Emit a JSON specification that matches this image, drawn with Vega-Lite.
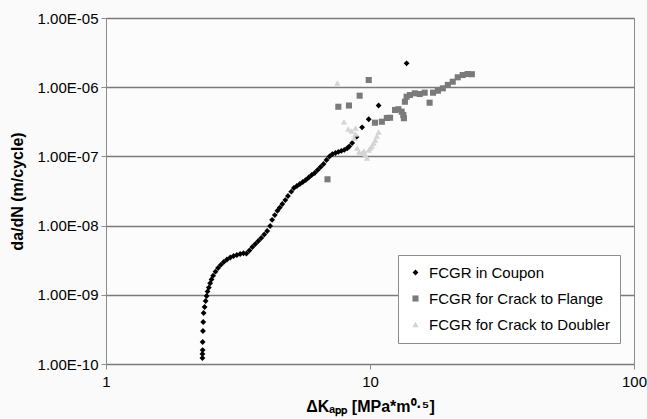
{
  "$schema": "https://vega.github.io/schema/vega-lite/v6.json",
  "autosize": {"type": "none"},
  "width": 528,
  "height": 346,
  "padding": {"left": 106, "top": 18, "right": 13, "bottom": 55},
  "background": "#fafafa",
  "config": {
    "font": "Liberation Sans",
    "view": {"stroke": "#8c8c8c", "strokeWidth": 1, "fill": "#fcfcfc"}
  },
  "data": {
    "values": [
      {"K": 2.319, "dadN": 1.22e-10, "s": "FCGR in Coupon"},
      {"K": 2.319, "dadN": 1.40e-10, "s": "FCGR in Coupon"},
      {"K": 2.323, "dadN": 1.59e-10, "s": "FCGR in Coupon"},
      {"K": 2.323, "dadN": 2.08e-10, "s": "FCGR in Coupon"},
      {"K": 2.329, "dadN": 3.00e-10, "s": "FCGR in Coupon"},
      {"K": 2.335, "dadN": 4.04e-10, "s": "FCGR in Coupon"},
      {"K": 2.343, "dadN": 5.46e-10, "s": "FCGR in Coupon"},
      {"K": 2.363, "dadN": 6.67e-10, "s": "FCGR in Coupon"},
      {"K": 2.384, "dadN": 8.13e-10, "s": "FCGR in Coupon"},
      {"K": 2.404, "dadN": 9.61e-10, "s": "FCGR in Coupon"},
      {"K": 2.425, "dadN": 1.12e-9, "s": "FCGR in Coupon"},
      {"K": 2.452, "dadN": 1.27e-9, "s": "FCGR in Coupon"},
      {"K": 2.480, "dadN": 1.47e-9, "s": "FCGR in Coupon"},
      {"K": 2.510, "dadN": 1.67e-9, "s": "FCGR in Coupon"},
      {"K": 2.545, "dadN": 1.89e-9, "s": "FCGR in Coupon"},
      {"K": 2.598, "dadN": 2.16e-9, "s": "FCGR in Coupon"},
      {"K": 2.657, "dadN": 2.44e-9, "s": "FCGR in Coupon"},
      {"K": 2.720, "dadN": 2.70e-9, "s": "FCGR in Coupon"},
      {"K": 2.791, "dadN": 2.98e-9, "s": "FCGR in Coupon"},
      {"K": 2.872, "dadN": 3.24e-9, "s": "FCGR in Coupon"},
      {"K": 2.957, "dadN": 3.46e-9, "s": "FCGR in Coupon"},
      {"K": 3.043, "dadN": 3.64e-9, "s": "FCGR in Coupon"},
      {"K": 3.131, "dadN": 3.76e-9, "s": "FCGR in Coupon"},
      {"K": 3.224, "dadN": 3.89e-9, "s": "FCGR in Coupon"},
      {"K": 3.317, "dadN": 3.98e-9, "s": "FCGR in Coupon"},
      {"K": 3.404, "dadN": 3.95e-9, "s": "FCGR in Coupon"},
      {"K": 3.493, "dadN": 4.37e-9, "s": "FCGR in Coupon"},
      {"K": 3.584, "dadN": 4.91e-9, "s": "FCGR in Coupon"},
      {"K": 3.679, "dadN": 5.42e-9, "s": "FCGR in Coupon"},
      {"K": 3.775, "dadN": 5.99e-9, "s": "FCGR in Coupon"},
      {"K": 3.873, "dadN": 6.62e-9, "s": "FCGR in Coupon"},
      {"K": 3.975, "dadN": 7.43e-9, "s": "FCGR in Coupon"},
      {"K": 4.079, "dadN": 8.36e-9, "s": "FCGR in Coupon"},
      {"K": 4.186, "dadN": 9.87e-9, "s": "FCGR in Coupon"},
      {"K": 4.258, "dadN": 1.21e-8, "s": "FCGR in Coupon"},
      {"K": 4.359, "dadN": 1.42e-8, "s": "FCGR in Coupon"},
      {"K": 4.459, "dadN": 1.64e-8, "s": "FCGR in Coupon"},
      {"K": 4.552, "dadN": 1.82e-8, "s": "FCGR in Coupon"},
      {"K": 4.655, "dadN": 2.05e-8, "s": "FCGR in Coupon"},
      {"K": 4.777, "dadN": 2.34e-8, "s": "FCGR in Coupon"},
      {"K": 4.889, "dadN": 2.68e-8, "s": "FCGR in Coupon"},
      {"K": 5.030, "dadN": 3.09e-8, "s": "FCGR in Coupon"},
      {"K": 5.149, "dadN": 3.49e-8, "s": "FCGR in Coupon"},
      {"K": 5.284, "dadN": 3.73e-8, "s": "FCGR in Coupon"},
      {"K": 5.422, "dadN": 3.99e-8, "s": "FCGR in Coupon"},
      {"K": 5.565, "dadN": 4.27e-8, "s": "FCGR in Coupon"},
      {"K": 5.710, "dadN": 4.56e-8, "s": "FCGR in Coupon"},
      {"K": 5.860, "dadN": 4.95e-8, "s": "FCGR in Coupon"},
      {"K": 6.013, "dadN": 5.38e-8, "s": "FCGR in Coupon"},
      {"K": 6.170, "dadN": 5.75e-8, "s": "FCGR in Coupon"},
      {"K": 6.332, "dadN": 6.36e-8, "s": "FCGR in Coupon"},
      {"K": 6.497, "dadN": 7.03e-8, "s": "FCGR in Coupon"},
      {"K": 6.668, "dadN": 7.76e-8, "s": "FCGR in Coupon"},
      {"K": 6.842, "dadN": 8.87e-8, "s": "FCGR in Coupon"},
      {"K": 7.021, "dadN": 9.97e-8, "s": "FCGR in Coupon"},
      {"K": 7.205, "dadN": 1.08e-7, "s": "FCGR in Coupon"},
      {"K": 7.394, "dadN": 1.12e-7, "s": "FCGR in Coupon"},
      {"K": 7.587, "dadN": 1.16e-7, "s": "FCGR in Coupon"},
      {"K": 7.786, "dadN": 1.20e-7, "s": "FCGR in Coupon"},
      {"K": 7.990, "dadN": 1.24e-7, "s": "FCGR in Coupon"},
      {"K": 8.199, "dadN": 1.31e-7, "s": "FCGR in Coupon"},
      {"K": 8.342, "dadN": 1.39e-7, "s": "FCGR in Coupon"},
      {"K": 8.561, "dadN": 1.56e-7, "s": "FCGR in Coupon"},
      {"K": 8.884, "dadN": 1.91e-7, "s": "FCGR in Coupon"},
      {"K": 9.333, "dadN": 2.63e-7, "s": "FCGR in Coupon"},
      {"K": 9.888, "dadN": 3.44e-7, "s": "FCGR in Coupon"},
      {"K": 10.78, "dadN": 5.44e-7, "s": "FCGR in Coupon"},
      {"K": 13.76, "dadN": 2.21e-6, "s": "FCGR in Coupon"},
      {"K": 6.902, "dadN": 4.67e-8, "s": "FCGR for Crack to Flange"},
      {"K": 7.587, "dadN": 5.22e-7, "s": "FCGR for Crack to Flange"},
      {"K": 8.322, "dadN": 5.44e-7, "s": "FCGR for Crack to Flange"},
      {"K": 9.135, "dadN": 7.54e-7, "s": "FCGR for Crack to Flange"},
      {"K": 9.888, "dadN": 1.27e-6, "s": "FCGR for Crack to Flange"},
      {"K": 10.44, "dadN": 3.07e-7, "s": "FCGR for Crack to Flange"},
      {"K": 11.09, "dadN": 3.17e-7, "s": "FCGR for Crack to Flange"},
      {"K": 11.58, "dadN": 3.59e-7, "s": "FCGR for Crack to Flange"},
      {"K": 11.91, "dadN": 3.62e-7, "s": "FCGR for Crack to Flange"},
      {"K": 12.44, "dadN": 4.69e-7, "s": "FCGR for Crack to Flange"},
      {"K": 12.81, "dadN": 4.80e-7, "s": "FCGR for Crack to Flange"},
      {"K": 13.18, "dadN": 4.43e-7, "s": "FCGR for Crack to Flange"},
      {"K": 13.37, "dadN": 3.97e-7, "s": "FCGR for Crack to Flange"},
      {"K": 13.44, "dadN": 3.56e-7, "s": "FCGR for Crack to Flange"},
      {"K": 13.56, "dadN": 6.17e-7, "s": "FCGR for Crack to Flange"},
      {"K": 13.76, "dadN": 7.29e-7, "s": "FCGR for Crack to Flange"},
      {"K": 14.16, "dadN": 7.71e-7, "s": "FCGR for Crack to Flange"},
      {"K": 14.78, "dadN": 8.16e-7, "s": "FCGR for Crack to Flange"},
      {"K": 15.43, "dadN": 7.97e-7, "s": "FCGR for Crack to Flange"},
      {"K": 16.11, "dadN": 8.33e-7, "s": "FCGR for Crack to Flange"},
      {"K": 16.82, "dadN": 5.97e-7, "s": "FCGR for Crack to Flange"},
      {"K": 17.33, "dadN": 8.33e-7, "s": "FCGR for Crack to Flange"},
      {"K": 18.08, "dadN": 8.90e-7, "s": "FCGR for Crack to Flange"},
      {"K": 18.88, "dadN": 9.64e-7, "s": "FCGR for Crack to Flange"},
      {"K": 19.71, "dadN": 1.08e-6, "s": "FCGR for Crack to Flange"},
      {"K": 20.58, "dadN": 1.20e-6, "s": "FCGR for Crack to Flange"},
      {"K": 21.49, "dadN": 1.39e-6, "s": "FCGR for Crack to Flange"},
      {"K": 22.43, "dadN": 1.50e-6, "s": "FCGR for Crack to Flange"},
      {"K": 23.43, "dadN": 1.55e-6, "s": "FCGR for Crack to Flange"},
      {"K": 24.31, "dadN": 1.54e-6, "s": "FCGR for Crack to Flange"},
      {"K": 7.522, "dadN": 1.15e-6, "s": "FCGR for Crack to Doubler"},
      {"K": 7.970, "dadN": 3.17e-7, "s": "FCGR for Crack to Doubler"},
      {"K": 8.272, "dadN": 2.49e-7, "s": "FCGR for Crack to Doubler"},
      {"K": 8.511, "dadN": 2.33e-7, "s": "FCGR for Crack to Doubler"},
      {"K": 8.809, "dadN": 2.57e-7, "s": "FCGR for Crack to Doubler"},
      {"K": 8.809, "dadN": 2.11e-7, "s": "FCGR for Crack to Doubler"},
      {"K": 8.711, "dadN": 1.85e-7, "s": "FCGR for Crack to Doubler"},
      {"K": 8.940, "dadN": 1.32e-7, "s": "FCGR for Crack to Doubler"},
      {"K": 9.095, "dadN": 1.16e-7, "s": "FCGR for Crack to Doubler"},
      {"K": 9.333, "dadN": 1.12e-7, "s": "FCGR for Crack to Doubler"},
      {"K": 9.496, "dadN": 1.20e-7, "s": "FCGR for Crack to Doubler"},
      {"K": 9.604, "dadN": 1.05e-7, "s": "FCGR for Crack to Doubler"},
      {"K": 9.745, "dadN": 9.48e-8, "s": "FCGR for Crack to Doubler"},
      {"K": 9.888, "dadN": 1.24e-7, "s": "FCGR for Crack to Doubler"},
      {"K": 10.03, "dadN": 1.32e-7, "s": "FCGR for Crack to Doubler"},
      {"K": 10.17, "dadN": 1.41e-7, "s": "FCGR for Crack to Doubler"},
      {"K": 10.32, "dadN": 1.56e-7, "s": "FCGR for Crack to Doubler"},
      {"K": 10.47, "dadN": 1.73e-7, "s": "FCGR for Crack to Doubler"},
      {"K": 10.62, "dadN": 1.97e-7, "s": "FCGR for Crack to Doubler"},
      {"K": 10.78, "dadN": 2.25e-7, "s": "FCGR for Crack to Doubler"}
    ]
  },
  "mark": {"type": "point", "filled": true, "opacity": 1},
  "encoding": {
    "x": {
      "field": "K", "type": "quantitative",
      "scale": {"type": "log", "domain": [1, 100], "nice": false},
      "axis": {
        "title": "ΔKₐₚₚ [MPa*m⁰·⁵]",
        "values": [1, 10, 100],
        "format": "d",
        "grid": false,
        "domain": false,
        "tickColor": "#8c8c8c",
        "tickSize": 5,
        "labelFontSize": 15,
        "labelColor": "#000",
        "labelPadding": 5,
        "labelFlush": false,
        "titleFontSize": 16,
        "titleFontWeight": "bold",
        "titleColor": "#000",
        "titlePadding": 9
      }
    },
    "y": {
      "field": "dadN", "type": "quantitative",
      "scale": {"type": "log", "domain": [1e-10, 1e-5], "nice": false},
      "axis": {
        "title": "da/dN (m/cycle)",
        "values": [1e-10, 1e-9, 1e-8, 1e-7, 1e-6, 1e-5],
        "labelExpr": "length(format(datum.value,'.2e'))==7 ? replace(upper(format(datum.value,'.2e')),'E-','E-0') : upper(format(datum.value,'.2e'))",
        "grid": true,
        "gridColor": "#7a7a7a",
        "gridWidth": 1.5,
        "domain": false,
        "tickColor": "#8c8c8c",
        "tickSize": 5,
        "labelFontSize": 15,
        "labelColor": "#000",
        "labelPadding": 3,
        "labelFlush": false,
        "titleFontSize": 16,
        "titleFontWeight": "bold",
        "titleColor": "#000",
        "titlePadding": 12
      }
    },
    "color": {
      "field": "s", "type": "nominal",
      "scale": {
        "domain": ["FCGR in Coupon", "FCGR for Crack to Flange", "FCGR for Crack to Doubler"],
        "range": ["#000000", "#7a7a7a", "#d4d4d4"]
      },
      "legend": {
        "title": null,
        "orient": "none",
        "legendX": 292,
        "legendY": 237,
        "fillColor": "#ffffff",
        "strokeColor": "#8c8c8c",
        "padding": 10,
        "rowPadding": 10,
        "labelFontSize": 15,
        "labelLimit": 400,
        "labelColor": "#000",
        "labelOffset": 6
      }
    },
    "shape": {
      "field": "s", "type": "nominal",
      "scale": {
        "domain": ["FCGR in Coupon", "FCGR for Crack to Flange", "FCGR for Crack to Doubler"],
        "range": ["diamond", "square", "triangle-up"]
      },
      "legend": null
    },
    "size": {
      "field": "s", "type": "nominal",
      "scale": {
        "domain": ["FCGR in Coupon", "FCGR for Crack to Flange", "FCGR for Crack to Doubler"],
        "range": [34, 40, 34]
      },
      "legend": null
    }
  }
}
